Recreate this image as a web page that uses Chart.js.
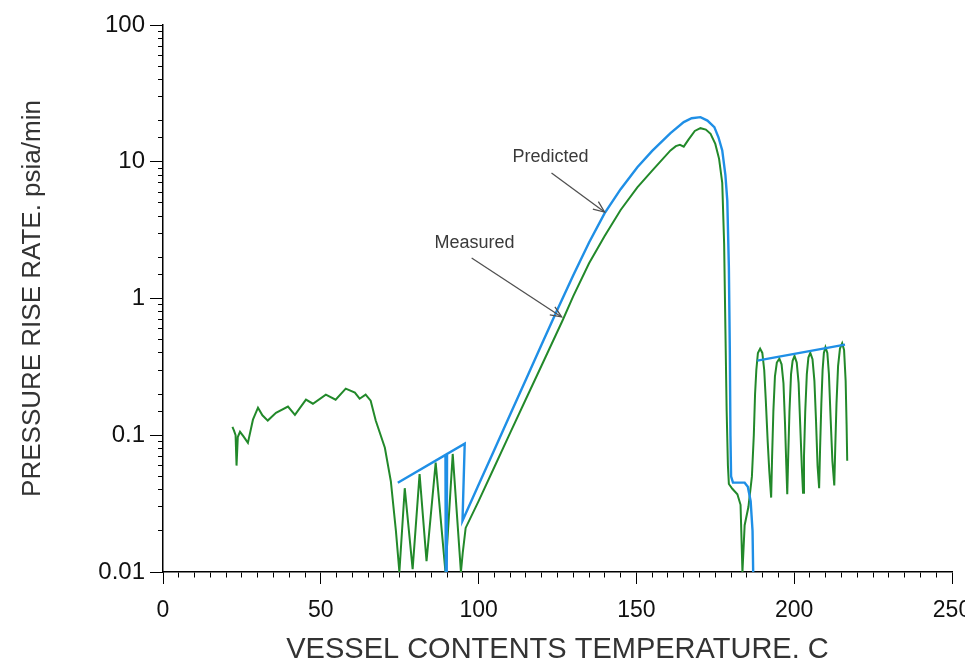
<!DOCTYPE html>
<html><head><meta charset="utf-8">
<script src="https://cdn.jsdelivr.net/npm/chart.js@4/dist/chart.umd.min.js"></script>
<style>html,body{margin:0;padding:0;background:#fff;}</style>
</head><body>
<canvas id="c" width="965" height="667"></canvas>
<script>
// ---- tick values / labels ----
const xTickValues = [0, 50, 100, 150, 200, 250];
const xTickLabels = ['0', '50', '100', '150', '200', '250'];
const yTickValues = [0.01, 0.1, 1, 10, 100];
const yTickLabels = ['0.01', '0.1', '1', '10', '100'];

// ---- Predicted (blue) ----
const predictedT = [74.4, 89.5, 89.6, 89.9, 90.0, 95.6, 94.9, 100, 105, 110, 115, 120, 124.4, 130, 135, 139.9, 145, 150.3, 155, 160.8, 165, 167.5, 170.3, 172.5, 174.7, 176, 177.2, 178.2, 178.8, 179.3, 179.6, 179.8, 180.0, 180.6, 184.3, 185.3, 186.2, 186.8, 187.0, 187.5, 188.3, 216.1];
const predictedRate = [0.0449, 0.0718, 0.01, 0.01, 0.073, 0.0867, 0.0237, 0.0434, 0.0784, 0.142, 0.256, 0.462, 0.776, 1.48, 2.57, 4.19, 6.3, 9.12, 12.0, 16.2, 19.5, 20.8, 21.2, 20.0, 17.9, 15.1, 12.1, 8.0, 5.2, 1.69, 0.42, 0.1, 0.05, 0.045, 0.045, 0.042, 0.033, 0.02, 0.01, null, 0.351, 0.46];

// ---- Measured (green) ----
const measuredT = [22.0, 22.5, 23.0, 23.3, 23.7, 24.4, 25.5, 26.9, 28.5, 30.1, 31.5, 33.2, 35.8, 39.6, 41.8, 45.3, 47.5, 51.6, 54.7, 57.9, 60.8, 62.3, 64.2, 65.8, 67.4, 70.3, 72.2, 73.8, 74.9, 76.6, 79.1, 81.3, 83.5, 86.4, 89.5, 91.8, 94.4, 95.0, 95.9, 100, 105, 110, 115, 120, 126.6, 130, 135, 139.9, 145, 150.3, 155, 160.8, 162.5, 163.8, 165, 166.5, 168.5, 170.3, 172, 173.5, 175, 176.2, 177.2, 177.8, 178.2, 178.6, 179.0, 179.3, 180.4, 182, 183, 183.6,
  184.3, 185.5, 186.6, 187.2, 187.6, 188.0, 188.5, 189.2, 189.9, 190.5, 191.0, 191.6, 192.1, 192.7,
  193.0, 193.4, 193.9, 194.5, 195.3, 196.0, 196.6, 197.1, 197.5, 197.8,
  198.1, 198.5, 199.0, 199.5, 200.1, 200.8, 201.4, 201.9, 202.4, 202.8,
  203.1, 203.5, 204.0, 204.5, 205.1, 205.8, 206.4, 206.9, 207.4, 207.9,
  208.2, 208.6, 209.0, 209.4, 209.9, 210.5, 211.0, 211.5, 212.1, 212.7,
  213.0, 213.4, 213.9, 214.5, 215.2, 215.8, 216.3, 216.6, 216.8];
const measuredRate = [0.115, 0.108, 0.1, 0.06, 0.097, 0.106, 0.098, 0.088, 0.13, 0.159, 0.14, 0.128, 0.146, 0.162, 0.141, 0.182, 0.170, 0.198, 0.182, 0.219, 0.205, 0.185, 0.198, 0.179, 0.128, 0.081, 0.046, 0.02, 0.01, 0.041, 0.0105, 0.052, 0.012, 0.063, 0.01, 0.073, 0.01, 0.014, 0.021, 0.033, 0.0586, 0.104, 0.184, 0.325, 0.69, 1.04, 1.81, 2.85, 4.44, 6.5, 8.6, 12.1, 13.0, 13.3, 12.9, 14.5, 16.8, 17.6, 17.2, 16.0, 13.5, 10.5, 7.0, 2.5, 0.6, 0.15, 0.06, 0.044, 0.0406, 0.037, 0.031, 0.01,
  0.022, 0.03, 0.05, 0.1, 0.2, 0.3, 0.4, 0.43, 0.4, 0.3, 0.18, 0.09, 0.055, 0.035,
  0.07, 0.15, 0.27, 0.34, 0.363, 0.33, 0.24, 0.12, 0.06, 0.037,
  0.07, 0.15, 0.28, 0.35, 0.38, 0.34, 0.24, 0.12, 0.06, 0.038,
  0.07, 0.15, 0.28, 0.37, 0.40, 0.36, 0.25, 0.13, 0.06, 0.041,
  0.08, 0.17, 0.3, 0.4, 0.44, 0.4, 0.28, 0.14, 0.065, 0.043,
  0.08, 0.17, 0.32, 0.43, 0.47, 0.42, 0.25, 0.12, 0.065];

// ---- annotations (text + arrow, in data coordinates) ----
const noteTexts = ['Predicted', 'Measured'];
const noteTextAt = [[122.8, 10.8], [98.7, 2.55]];
const noteArrowFrom = [[123.1, 8.28], [97.8, 1.98]];
const noteArrowTo = [[139.9, 4.29], [126.3, 0.733]];

const FONT = '"Liberation Sans", Arial, Helvetica, sans-serif';
const isMajorLog = v => yTickValues.some(t => Math.abs(Math.log10(v) - Math.log10(t)) < 1e-6);
const logLabel = v => { const i = yTickValues.findIndex(t => Math.abs(Math.log10(v) - Math.log10(t)) < 1e-6); return i >= 0 ? yTickLabels[i] : ''; };
const isMajorX = v => xTickValues.some(t => Math.abs(v - t) < 1e-6);
const xLabel = v => { const i = xTickValues.findIndex(t => Math.abs(v - t) < 1e-6); return i >= 0 ? xTickLabels[i] : ''; };

const toPts = (xs, ys) => xs.map((x, i) => ({ x: x, y: ys[i] }));

const notesPlugin = {
  id: 'notes',
  afterDatasetsDraw(chart) {
    const { ctx, scales: { x, y } } = chart;
    ctx.save();
    noteTexts.forEach((t, i) => {
      ctx.font = '18px ' + FONT;
      ctx.fillStyle = '#3a3a3a';
      ctx.textAlign = 'center';
      ctx.textBaseline = 'middle';
      ctx.fillText(t, x.getPixelForValue(noteTextAt[i][0]), y.getPixelForValue(noteTextAt[i][1]));
      const x1 = x.getPixelForValue(noteArrowFrom[i][0]), y1 = y.getPixelForValue(noteArrowFrom[i][1]);
      const x2 = x.getPixelForValue(noteArrowTo[i][0]), y2 = y.getPixelForValue(noteArrowTo[i][1]);
      ctx.strokeStyle = '#505050';
      ctx.lineWidth = 1.3;
      ctx.beginPath(); ctx.moveTo(x1, y1); ctx.lineTo(x2, y2); ctx.stroke();
      const a = Math.atan2(y2 - y1, x2 - x1), L = 12, s = 0.4;
      ctx.beginPath();
      ctx.moveTo(x2 - L * Math.cos(a - s), y2 - L * Math.sin(a - s));
      ctx.lineTo(x2, y2);
      ctx.lineTo(x2 - L * Math.cos(a + s), y2 - L * Math.sin(a + s));
      ctx.stroke();
    });
    ctx.restore();
  }
};

new Chart(document.getElementById('c'), {
  type: 'line',
  data: {
    datasets: [
      { label: 'Predicted', data: toPts(predictedT, predictedRate), borderColor: '#1f8fe6', borderWidth: 2.4, pointRadius: 0, tension: 0, spanGaps: false },
      { label: 'Measured', data: toPts(measuredT, measuredRate), borderColor: '#22892a', borderWidth: 2, pointRadius: 0, tension: 0, spanGaps: false }
    ]
  },
  options: {
    responsive: false,
    animation: false,
    devicePixelRatio: 1,
    layout: { padding: { left: 0, right: 13, top: 25, bottom: 0 } },
    plugins: { legend: { display: false }, tooltip: { enabled: false } },
    scales: {
      x: {
        type: 'linear', min: 0, max: 250,
        ticks: {
          stepSize: 5, autoSkip: false, maxRotation: 0, minRotation: 0, padding: 13,
          color: '#111', font: { family: FONT, size: 23 },
          callback: v => xLabel(v)
        },
        grid: {
          display: true, drawOnChartArea: false, drawTicks: true, tickLength: 12,
          color: '#000', tickColor: '#000', tickWidth: 1,
          tickBorderDash: c => (c.tick && isMajorX(c.tick.value)) ? [] : [5, 40]
        },
        border: { display: true, color: '#000', width: 1.5 },
        title: { display: true, text: 'VESSEL CONTENTS TEMPERATURE. C', color: '#333', font: { family: FONT, size: 29 }, padding: { top: 0, bottom: 0 } },
        afterFit: s => { s.height = 95; s.paddingLeft = 0; s.paddingRight = 0; }
      },
      y: {
        type: 'logarithmic', min: 0.01, max: 100,
        ticks: {
          autoSkip: false, padding: 5, color: '#111', font: { family: FONT, size: 24 },
          callback: v => logLabel(v)
        },
        grid: {
          display: true, drawOnChartArea: false, drawTicks: true, tickLength: 13,
          color: '#000', tickColor: '#000', tickWidth: 1,
          tickBorderDash: c => (c.tick && isMajorLog(c.tick.value)) ? [] : [0, 8, 5, 40]
        },
        border: { display: true, color: '#000', width: 1.5 },
        title: { display: true, text: 'PRESSURE RISE RATE. psia/min', color: '#333', font: { family: FONT, size: 26 }, padding: { top: 17, bottom: 0 } },
        afterFit: s => { s.width = 163; }
      }
    }
  },
  plugins: [notesPlugin]
});
</script>
</body></html>
